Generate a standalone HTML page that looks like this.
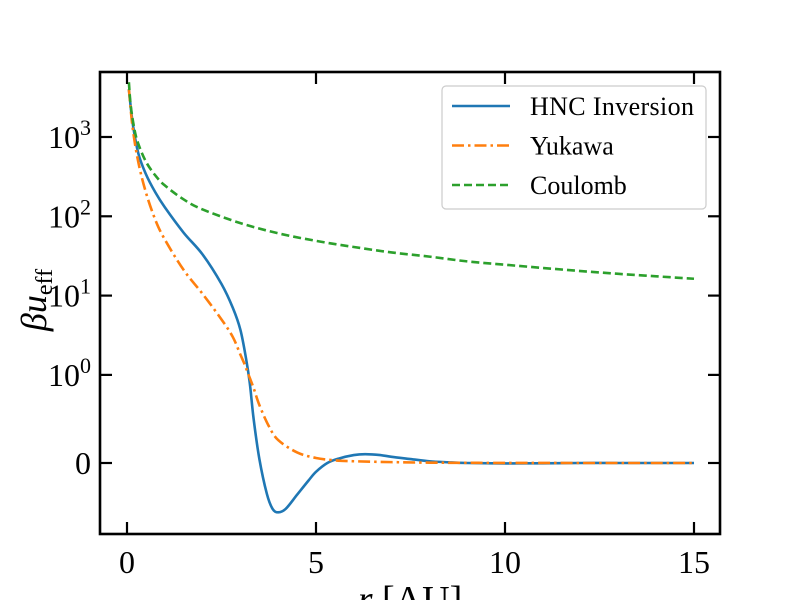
<!DOCTYPE html>
<html><head><meta charset="utf-8"><style>
body{margin:0;background:#fff;}
svg text{font-family:"Liberation Serif",serif;fill:#000;}
</style></head><body>
<svg id="chart" width="800" height="600" xmlns="http://www.w3.org/2000/svg">
<rect width="800" height="600" fill="#fff"/>
<g id="plot"></g>
</svg>
<script>
const xTicks=[0,5,10,15];
const yTicks=[0,1,10,100,1000];
const yTickLabels=[["0",""],["10","0"],["10","1"],["10","2"],["10","3"]];
const hncR=[0.05,0.15,0.3,0.5,0.75,1,1.5,2,2.5,2.8,3,3.15,3.25,3.35,3.5,3.7,3.85,4,4.2,4.5,4.8,5,5.3,5.6,6,6.3,6.7,7,7.5,8,8.5,9,10,11,12,13,14,15];
const hncV=[4000,1500,620,340,200,130,62,33,14,7,3.7,1.6,0.9,0.5,0.05,-0.35,-0.52,-0.56,-0.52,-0.36,-0.2,-0.1,0.0,0.05,0.09,0.1,0.09,0.07,0.045,0.02,0.008,0.0,-0.005,-0.003,0,0,0,0];
const yukR=[0.05,0.15,0.3,0.5,0.75,1,1.5,2,2.5,2.8,3,3.1,3.2,3.35,3.5,3.75,4,4.5,5,5.5,6,7,8,9,10,12,15];
const yukV=[4000,1300,480,200,90,51,21,10.5,5,3,1.8,1.4,1.05,0.85,0.66,0.42,0.26,0.12,0.057,0.03,0.02,0.01,0.004,0.002,0.001,0,0];
const couR=[0.05,0.1,0.2,0.3,0.5,0.75,1,1.5,2,3,4,5,6,7,8,9,10,11,12,13,14,15];
const couV=[4900,2450,1225,817,490,327,245,163,122,82,61,49,41,35,31,27,24.5,22.3,20.4,18.8,17.5,16.3];

const X0=127,XS=37.8,Y0=463,DEC=79.3,L=100,R=720,T=72,B=534;
const sx=v=>X0+v*XS;
const sy=v=>{const a=Math.abs(v);const t=a<=1?a*(1/0.9):(1/0.9)+Math.log10(a);return Y0-Math.sign(v)*t*DEC;};
const NS="http://www.w3.org/2000/svg";
const g=document.getElementById('plot');
function mk(tag,attrs,parent){const e=document.createElementNS(NS,tag);for(const k in attrs)e.setAttribute(k,attrs[k]);(parent||g).appendChild(e);return e;}
function path(xs,ys){
  const p=xs.map((x,i)=>[sx(x),sy(ys[i])]);
  let d="M"+p[0][0]+","+p[0][1];
  for(let i=0;i<p.length-1;i++){
    const p0=p[Math.max(0,i-1)],p1=p[i],p2=p[i+1],p3=p[Math.min(p.length-1,i+2)];
    const c1=[p1[0]+(p2[0]-p0[0])/6,p1[1]+(p2[1]-p0[1])/6];
    const c2=[p2[0]-(p3[0]-p1[0])/6,p2[1]-(p3[1]-p1[1])/6];
    d+=` C${c1[0]},${c1[1]} ${c2[0]},${c2[1]} ${p2[0]},${p2[1]}`;
  }
  return d;
}
const clip=mk('clipPath',{id:'cp'});mk('rect',{x:L,y:T,width:R-L,height:B-T},clip);
const lines=mk('g',{'clip-path':'url(#cp)'});
let e;
e=mk('path',{d:path(hncR,hncV),fill:'none',stroke:'#1f77b4','stroke-width':2.6},lines);


e=mk('path',{d:path(yukR,yukV),fill:'none',stroke:'#ff7f0e','stroke-width':2.6,'stroke-dasharray':'12,4,2.5,4'},lines);


e=mk('path',{d:path(couR,couV),fill:'none',stroke:'#2ca02c','stroke-width':2.6,'stroke-dasharray':'8,4'},lines);


xTicks.forEach(v=>{
  const x=sx(v);
  mk('line',{x1:x,x2:x,y1:B,y2:B-12,stroke:'#000','stroke-width':2.2});
  mk('line',{x1:x,x2:x,y1:T,y2:T+12,stroke:'#000','stroke-width':2.2});
  const t=mk('text',{x:x,y:B+39,'font-size':32,'text-anchor':'middle'});t.textContent=v;
  
  
});
yTicks.forEach((v,i)=>{
  const y=sy(v);
  mk('line',{x1:L,x2:L+12,y1:y,y2:y,stroke:'#000','stroke-width':2.2});
  mk('line',{x1:R,x2:R-12,y1:y,y2:y,stroke:'#000','stroke-width':2.2});
  const t=mk('text',{x:91,y:y+11,'font-size':32,'text-anchor':'end'});
  const lb=yTickLabels[i];
  if(lb[1]){const a=mk('tspan',{},t);a.textContent=lb[0];const b=mk('tspan',{dy:-13,'font-size':22},t);b.textContent=lb[1];}
  else t.textContent=lb[0];
  
  
});
e=mk('rect',{x:L,y:T,width:R-L,height:B-T,fill:'none',stroke:'#000','stroke-width':2.6});


e=mk('text',{x:0,y:0,'font-size':36,'text-anchor':'middle',transform:'translate(46,300) rotate(-90)','font-style':'italic'});
e.innerHTML='βu<tspan font-size="24" dy="6" font-style="normal">eff</tspan>';


e=mk('text',{x:410,y:612,'font-size':38,'text-anchor':'middle'});
e.innerHTML='<tspan font-style="italic">r</tspan> [AU]';


const lg=mk('g',{});


mk('rect',{x:442,y:86,width:264,height:123,rx:4,fill:'#fff','fill-opacity':0.8,stroke:'#ccc','stroke-width':1.2},lg);
const leg=[["HNC Inversion","#1f77b4",""],["Yukawa","#ff7f0e","12,4,2.5,4"],["Coulomb","#2ca02c","8,4"]];
leg.forEach((l,i)=>{
  const y=106+i*39.5;
  const en=mk('g',{},lg);
  
  
  mk('line',{x1:452,x2:510,y1:y,y2:y,stroke:l[1],'stroke-width':2.6,'stroke-dasharray':l[2]||'none'},en);
  const t=mk('text',{x:530,y:y+9,'font-size':26,textLength:l[0]==="HNC Inversion"?164:null},en);
  if(l[0]!=="HNC Inversion")t.removeAttribute('textLength');
  t.textContent=l[0];
});
</script>
</body></html>
